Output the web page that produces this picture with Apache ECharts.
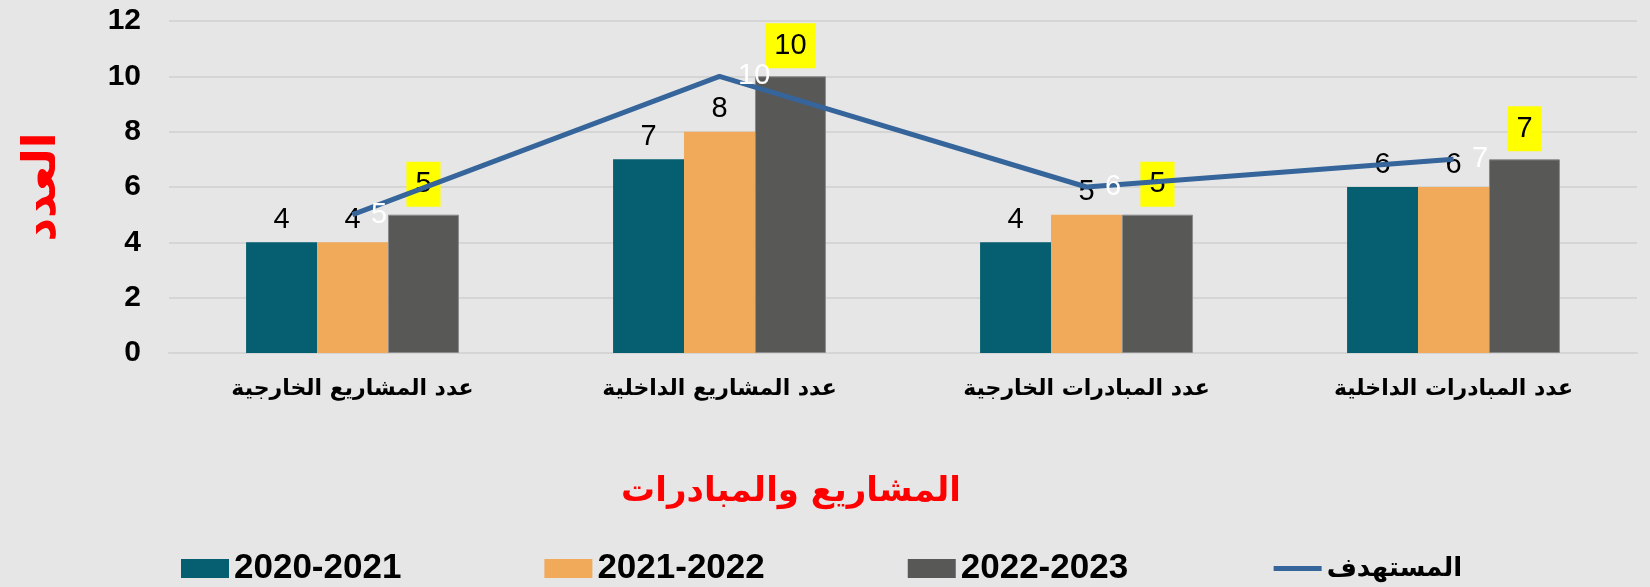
<!DOCTYPE html>
<html>
<head>
<meta charset="utf-8">
<script src="https://cdn.jsdelivr.net/npm/echarts@6/dist/echarts.min.js"></script>
<style>
    html, body { margin: 0; padding: 0; background: #e6e6e6; }
    #chart { width: 1650px; height: 587px; }
</style>
</head>
<body>
<div id="chart"></div>
<script>
    // categories and values
    var categories = ['عدد المشاريع الخارجية', 'عدد المشاريع الداخلية', 'عدد المبادرات الخارجية', 'عدد المبادرات الداخلية'];
    var seriesNames = ['2020-2021', '2021-2022', '2022-2023', 'المستهدف'];
    var values2020 = [4, 7, 4, 6];
    var values2021 = [4, 8, 5, 6];
    var values2022 = [5, 10, 5, 7];
    var target = [5, 10, 6, 7];
    var yTicks = [0, 2, 4, 6, 8, 10, 12];

    var latin = "'Liberation Sans', 'DejaVu Sans', sans-serif";
    var arabic = "'DejaVu Sans', sans-serif";

    var myChart = echarts.init(document.getElementById('chart'));

    var barLabel = {
        show: true,
        position: 'top',
        distance: 8,
        color: '#000',
        fontSize: 29,
        fontFamily: latin
    };

    var option = {
        backgroundColor: '#e6e6e6',
        animation: false,
        grid: { left: 169, right: 13, top: 21, bottom: 234, outerBoundsMode: 'none' },
        legend: {
            left: 176,
            top: 546,
            itemWidth: 48,
            itemHeight: 19,
            itemGap: 143,
            textStyle: { color: '#000', fontSize: 35, fontWeight: 'bold', fontFamily: latin },
            data: [
                { name: seriesNames[0], icon: 'rect' },
                { name: seriesNames[1], icon: 'rect' },
                { name: seriesNames[2], icon: 'rect', itemStyle: { borderWidth: 0 } },
                {
                    name: seriesNames[3],
                    itemStyle: { opacity: 0 },
                    lineStyle: { width: 5 },
                    textStyle: { fontSize: 26 }
                }
            ]
        },
        graphic: [{
            type: 'text',
            x: 791,
            y: 492,
            style: {
                text: 'المشاريع والمبادرات',
                fill: '#ff0000',
                font: 'bold 34px ' + arabic,
                textAlign: 'center',
                textVerticalAlign: 'middle',
                textShadowColor: 'rgba(120,0,0,0.35)',
                textShadowOffsetX: 2,
                textShadowOffsetY: 2
            }
        }],
        xAxis: {
            type: 'category',
            data: categories,
            axisTick: { show: false },
            axisLine: { lineStyle: { color: '#d5d5d5', width: 2 } },
            axisLabel: { color: '#000', fontSize: 22, fontWeight: 'bold', fontFamily: arabic, margin: 25 }
        },
        yAxis: {
            type: 'value',
            min: yTicks[0],
            max: yTicks[yTicks.length - 1],
            interval: 2,
            name: 'العدد',
            nameLocation: 'middle',
            nameGap: 103,
            nameTextStyle: { color: '#ff0000', fontSize: 46, fontWeight: 'bold', fontFamily: arabic },
            axisLabel: { color: '#000', fontSize: 30, fontWeight: 'bold', fontFamily: latin, margin: 28 },
            splitLine: { lineStyle: { color: '#d5d5d5', width: 2 } }
        },
        series: [
            {
                name: seriesNames[0],
                type: 'bar',
                data: values2020,
                barGap: '0%',
                barCategoryGap: '42%',
                itemStyle: { color: '#065f70' },
                label: barLabel
            },
            {
                name: seriesNames[1],
                type: 'bar',
                data: values2021,
                itemStyle: { color: '#f0aa5a' },
                label: barLabel
            },
            {
                name: seriesNames[2],
                type: 'bar',
                data: values2022,
                itemStyle: { color: '#585857', borderColor: '#8a8a8a', borderWidth: 1 },
                label: {
                    show: true,
                    position: 'top',
                    distance: 8,
                    color: '#000',
                    fontSize: 29,
                    fontFamily: latin,
                    backgroundColor: '#ffff00',
                    padding: [8, 9],
                    lineHeight: 29
                }
            },
            {
                name: seriesNames[3],
                type: 'line',
                data: target,
                z: 5,
                symbol: 'circle',
                symbolSize: 1,
                itemStyle: { color: '#35659a' },
                lineStyle: { color: '#35659a', width: 5 },
                label: {
                    show: true,
                    position: 'right',
                    distance: 18,
                    color: '#ffffff',
                    fontSize: 29,
                    fontFamily: latin
                }
            }
        ]
    };

    myChart.setOption(option);
    window.addEventListener('resize', () => {
        myChart.resize()
    })
</script>
</body>
</html>
